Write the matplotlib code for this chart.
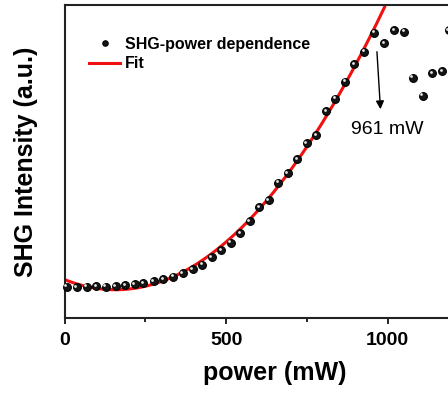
import matplotlib
matplotlib.use('Agg')
import matplotlib.pyplot as plt
import matplotlib.transforms as mtransforms
import numpy as np

plt.rcParams['font.family'] = ['Liberation Sans', 'DejaVu Sans']

# power (mW) and SHG intensity (a.u.)
power = [7, 38, 69, 98, 127, 158, 187, 217, 244, 276, 306, 336, 366, 396, 426,
         455, 485, 514, 543, 573, 602, 632, 661, 691, 720, 749, 778, 809, 838,
         868, 897, 928, 958, 989, 1019, 1050, 1077, 1108, 1137, 1168, 1188]
intensity = [31.3, 30.7, 31.3, 31.7, 31.3, 32.0, 32.7, 33.7, 34.7, 36.7, 38.7,
             41.3, 45.0, 49.0, 53.3, 60.7, 68.0, 75.3, 84.7, 97.0, 110.7, 118.0,
             135.3, 144.7, 158.7, 174.7, 183.0, 207.0, 219.3, 236.3, 253.7,
             266.3, 285.3, 274.7, 288.0, 286.3, 240.3, 222.3, 244.7, 247.0, 288.0]
fit_limit = 961

power = np.array(power)
intensity = np.array(intensity)

fig = plt.figure(figsize=(4.48, 3.94), dpi=100)
ax = fig.add_axes([0.1440, 0.1929, 0.938, 0.7944])

sel = power <= fit_limit
coef = np.polyfit(power[sel], intensity[sel], 2)
xf = np.linspace(0, 990, 200)
ax.plot(xf, np.polyval(coef, xf), color='#f01010', lw=2.2, zorder=2, label='Fit')

ax.plot(power, intensity, 'o', ms=5.6, mfc='#151515', mec='#000000', mew=0.8,
        zorder=3, label='SHG-power dependence', clip_on=False)
# little highlight so the balls look shaded
hl = mtransforms.offset_copy(ax.transData, fig=fig, x=-1.0, y=1.0, units='points')
ax.plot(power, intensity, 'o', ms=2.0, mfc='#e6e6e6', mec='none', transform=hl,
        zorder=4, clip_on=False)

ax.set_xlim(0, 1300)
ax.set_ylim(0, 313)

h, l = ax.get_legend_handles_labels()
leg = ax.legend(h[::-1], l[::-1], loc='upper left', bbox_to_anchor=(0.025, 0.945),
                frameon=False, handlelength=1.9, handletextpad=0.3, labelspacing=0.3,
                markerscale=0.7, prop={'weight': 'bold', 'size': 11.5})

ax.annotate('', xy=(978, 206), xytext=(966, 269),
            arrowprops=dict(arrowstyle='-|>', color='black', lw=1.0, mutation_scale=12))
ax.text(997, 189, '961 mW', fontsize=14, ha='center', va='center')

ax.set_xticks([0, 500, 1000])
ax.set_xticks([250, 750], minor=True)
ax.set_yticks([])
ax.tick_params(axis='x', which='major', direction='out', length=4, width=1.2,
               labelsize=14, pad=6)
ax.tick_params(axis='x', which='minor', direction='out', length=3, width=1.2)
for t in ax.get_xticklabels():
    t.set_fontweight('bold')
for s in ax.spines.values():
    s.set_linewidth(1.5)
    s.set_color('#222222')

ax.set_xlabel('power (mW)', fontsize=18, fontweight='bold', labelpad=9)
ax.set_ylabel('SHG Intensity (a.u.)', fontsize=18, fontweight='bold', labelpad=19)

fig.savefig('out.png', dpi=100)
